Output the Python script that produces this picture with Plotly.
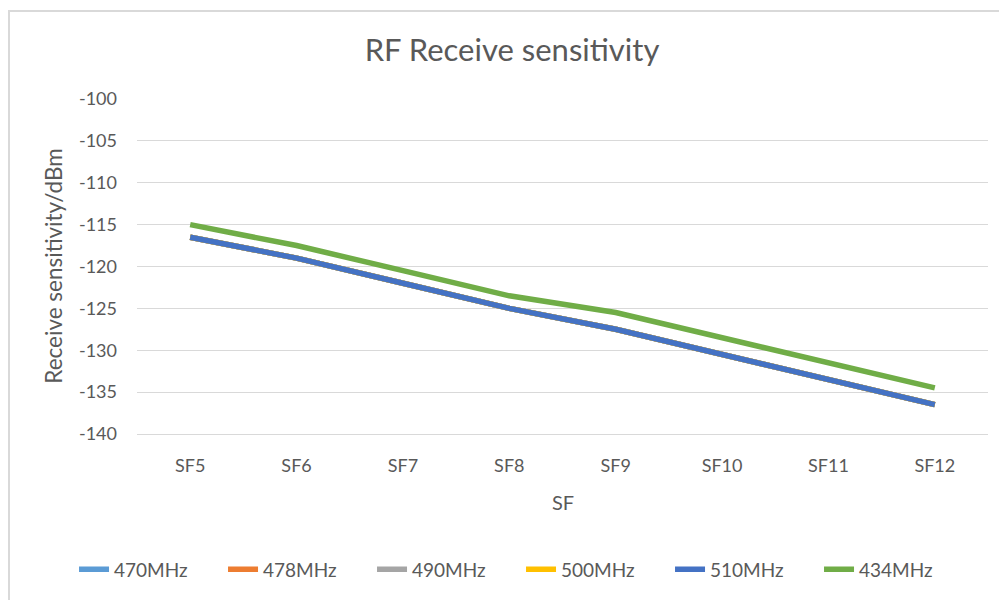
import plotly.graph_objects as go

categories = ['SF5', 'SF6', 'SF7', 'SF8', 'SF9', 'SF10', 'SF11', 'SF12']
s470 = [-116.5, -119, -122, -125, -127.5, -130.5, -133.5, -136.5]
s478 = [-116.5, -119, -122, -125, -127.5, -130.5, -133.5, -136.5]
s490 = [-116.5, -119, -122, -125, -127.5, -130.5, -133.5, -136.5]
s500 = [-116.5, -119, -122, -125, -127.5, -130.5, -133.5, -136.5]
s510 = [-116.5, -119, -122, -125, -127.5, -130.5, -133.5, -136.5]
s434 = [-115, -117.5, -120.5, -123.5, -125.5, -128.5, -131.5, -134.5]

y_ticks = [-140, -135, -130, -125, -120, -115, -110, -105, -100]
y_tick_labels = ['-140', '-135', '-130', '-125', '-120', '-115', '-110', '-105', '-100']

series = [
    ('470MHz', s470, '#5B9BD5'),
    ('478MHz', s478, '#ED7D31'),
    ('490MHz', s490, '#A5A5A5'),
    ('500MHz', s500, '#FFC000'),
    ('510MHz', s510, '#4472C4'),
    ('434MHz', s434, '#70AD47'),
]

font_family = 'Lato, Open Sans, sans-serif'
grey = '#595959'
border = '#D9D9D9'

fig = go.Figure()
for name, vals, color in series:
    fig.add_trace(go.Scatter(
        x=categories,
        y=vals,
        mode='lines',
        name=name,
        line=dict(color=color, width=5.5),
    ))

# the page body has an 8px margin, so the figure is sized to fit inside it
fig.update_layout(
    width=991,
    height=592,
    paper_bgcolor='white',
    plot_bgcolor='white',
    font=dict(family=font_family, color=grey, size=18),
    title=dict(text='RF Receive sensitivity', x=0.5086, xanchor='center',
               y=0.929, yanchor='middle', font=dict(size=31, color=grey)),
    margin=dict(l=129, r=11, t=91, b=159),
    showlegend=True,
    legend=dict(orientation='h', x=-0.074, xanchor='left', y=-0.404, yanchor='middle',
                font=dict(size=19, color=grey), entrywidth=104, entrywidthmode='pixels',
                itemwidth=30, tracegroupgap=0),
    xaxis=dict(
        type='category',
        range=[-0.5, 7.5],
        showgrid=False,
        showline=True,
        linecolor=border,
        linewidth=1,
        ticks='',
        tickfont=dict(size=18, color=grey),
        ticklabelstandoff=15,
    ),
    yaxis=dict(
        range=[-140, -100],
        tickvals=y_ticks,
        ticktext=y_tick_labels,
        showgrid=True,
        gridcolor=border,
        gridwidth=1,
        zeroline=False,
        ticks='',
        tickfont=dict(size=18, color=grey),
        ticklabelstandoff=19,
    ),
)

# axis titles placed as annotations
fig.add_annotation(text='Receive sensitivity/dBm', xref='paper', yref='paper',
                   x=-0.0985, y=0.5, textangle=-90, showarrow=False,
                   xanchor='center', yanchor='middle', font=dict(size=22.5, color=grey))
fig.add_annotation(text='SF', xref='paper', yref='paper',
                   x=0.5006, y=-0.2018, showarrow=False,
                   xanchor='center', yanchor='middle', font=dict(size=20, color=grey))

# chart-area frame like the spreadsheet chart border
fig.add_shape(type='rect', xref='paper', yref='paper',
              x0=-0.1504, x1=1.2, y0=-1, y1=1.263,
              line=dict(color=border, width=2), fillcolor='rgba(0,0,0,0)', layer='below')

fig.write_html('out.html')
